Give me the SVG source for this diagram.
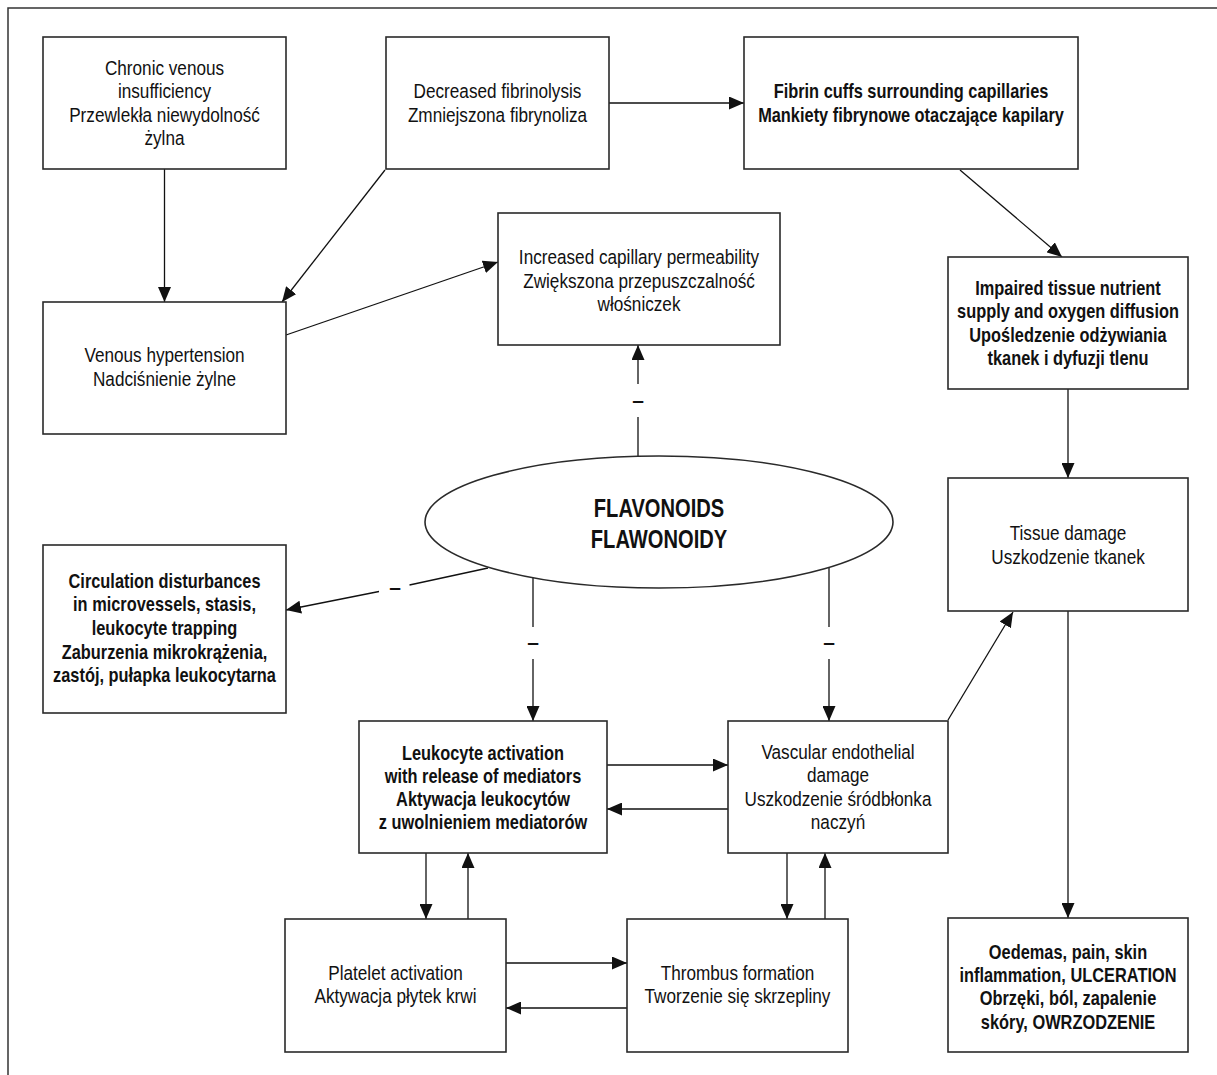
<svg xmlns="http://www.w3.org/2000/svg" width="1217" height="1075" viewBox="0 0 1217 1075">
<style>
.bg{fill:#fff}
.frame{fill:none;stroke:#333;stroke-width:1.5}
.box{fill:#fff;stroke:#2a2a2a;stroke-width:1.6}
.t{font-family:"Liberation Sans",Arial,sans-serif;font-size:19.5px;text-anchor:middle;fill:#111}
.b{font-weight:bold}
.fl{font-family:"Liberation Sans",Arial,sans-serif;font-size:26.5px;font-weight:bold;text-anchor:middle;fill:#111}
.c{fill:none;stroke:#111;stroke-width:1.3}
.m{font-family:"Liberation Sans",Arial,sans-serif;font-size:21px;font-weight:bold;text-anchor:middle;fill:#111}
</style>
<defs>
<marker id="ah" markerUnits="userSpaceOnUse" markerWidth="15" markerHeight="13" refX="15" refY="6.5" orient="auto">
<path d="M0,0 L15,6.5 L0,13 Z" fill="#111"/>
</marker>
</defs>
<rect class="bg" x="0" y="0" width="1217" height="1075"/>
<path class="frame" d="M8,1075 V8 H1217"/>

<g id="connectors">
<path class="c" d="M164.5,169 V302" marker-end="url(#ah)"/>
<path class="c" d="M385,170 L282,302" marker-end="url(#ah)"/>
<path class="c" d="M286,335 L498,262" marker-end="url(#ah)"/>
<path class="c" d="M609,103 H744" marker-end="url(#ah)"/>
<path class="c" d="M960,170 L1062,257" marker-end="url(#ah)"/>
<path class="c" d="M1068,389 V478" marker-end="url(#ah)"/>
<path class="c" d="M1068,611 V918" marker-end="url(#ah)"/>
<path class="c" d="M948,720 L1013,612" marker-end="url(#ah)"/>
<path class="c" d="M638,456 V417"/>
<path class="c" d="M638,384 V345" marker-end="url(#ah)"/>
<text class="m" x="638" y="407">–</text>
<path class="c" d="M488,568 L409.5,585"/>
<path class="c" d="M379,591.5 L286,610" marker-end="url(#ah)"/>
<text class="m" x="395" y="594">–</text>
<path class="c" d="M533,577 V627"/>
<path class="c" d="M533,659 V721" marker-end="url(#ah)"/>
<text class="m" x="533" y="649">–</text>
<path class="c" d="M829,567 V627"/>
<path class="c" d="M829,659 V721" marker-end="url(#ah)"/>
<text class="m" x="829" y="649">–</text>
<path class="c" d="M607,765 H728" marker-end="url(#ah)"/>
<path class="c" d="M728,809 H607" marker-end="url(#ah)"/>
<path class="c" d="M426,853 V919" marker-end="url(#ah)"/>
<path class="c" d="M468,919 V853" marker-end="url(#ah)"/>
<path class="c" d="M506,963 H627" marker-end="url(#ah)"/>
<path class="c" d="M627,1008 H506" marker-end="url(#ah)"/>
<path class="c" d="M787,853 V919" marker-end="url(#ah)"/>
<path class="c" d="M825,919 V853" marker-end="url(#ah)"/>
</g>

<g id="chronic">
<rect class="box" x="43" y="37" width="243" height="132"/>
<text class="t" transform="translate(164.5 0) scale(0.88 1)"><tspan x="0" y="75">Chronic venous</tspan><tspan x="0" y="98">insufficiency</tspan><tspan x="0" y="122">Przewlekła niewydolność</tspan><tspan x="0" y="145">żylna</tspan></text>
</g>
<g id="decreased">
<rect class="box" x="386" y="37" width="223" height="132"/>
<text class="t" transform="translate(497.5 0) scale(0.88 1)"><tspan x="0" y="98">Decreased fibrinolysis</tspan><tspan x="0" y="122">Zmniejszona fibrynoliza</tspan></text>
</g>
<g id="fibrin">
<rect class="box" x="744" y="37" width="334" height="132"/>
<text class="t b" transform="translate(911 0) scale(0.84 1)"><tspan x="0" y="98">Fibrin cuffs surrounding capillaries</tspan><tspan x="0" y="122">Mankiety fibrynowe otaczające kapilary</tspan></text>
</g>
<g id="increased">
<rect class="box" x="498" y="213" width="282" height="132"/>
<text class="t" transform="translate(639 0) scale(0.88 1)"><tspan x="0" y="264">Increased capillary permeability</tspan><tspan x="0" y="288">Zwiększona przepuszczalność</tspan><tspan x="0" y="311">włośniczek</tspan></text>
</g>
<g id="venous">
<rect class="box" x="43" y="302" width="243" height="132"/>
<text class="t" transform="translate(164.5 0) scale(0.88 1)"><tspan x="0" y="362">Venous hypertension</tspan><tspan x="0" y="386">Nadciśnienie żylne</tspan></text>
</g>
<g id="impaired">
<rect class="box" x="948" y="257" width="240" height="132"/>
<text class="t b" transform="translate(1068 0) scale(0.84 1)"><tspan x="0" y="295">Impaired tissue nutrient</tspan><tspan x="0" y="318">supply and oxygen diffusion</tspan><tspan x="0" y="342">Upośledzenie odżywiania</tspan><tspan x="0" y="365">tkanek i dyfuzji tlenu</tspan></text>
</g>
<g id="flavonoids">
<ellipse class="box" cx="659" cy="522" rx="234" ry="66"/>
<text class="fl" transform="translate(659 0) scale(0.76 1)"><tspan x="0" y="517">FLAVONOIDS</tspan><tspan x="0" y="548">FLAWONOIDY</tspan></text>
</g>
<g id="circulation">
<rect class="box" x="43" y="545" width="243" height="168"/>
<text class="t b" transform="translate(164.5 0) scale(0.84 1)"><tspan x="0" y="588">Circulation disturbances</tspan><tspan x="0" y="611">in microvessels, stasis,</tspan><tspan x="0" y="635">leukocyte trapping</tspan><tspan x="0" y="659">Zaburzenia mikrokrążenia,</tspan><tspan x="0" y="682">zastój, pułapka leukocytarna</tspan></text>
</g>
<g id="tissue">
<rect class="box" x="948" y="478" width="240" height="133"/>
<text class="t" transform="translate(1068 0) scale(0.88 1)"><tspan x="0" y="540">Tissue damage</tspan><tspan x="0" y="564">Uszkodzenie tkanek</tspan></text>
</g>
<g id="leukocyte">
<rect class="box" x="359" y="721" width="248" height="132"/>
<text class="t b" transform="translate(483 0) scale(0.84 1)"><tspan x="0" y="760">Leukocyte activation</tspan><tspan x="0" y="783">with release of mediators</tspan><tspan x="0" y="806">Aktywacja leukocytów</tspan><tspan x="0" y="829">z uwolnieniem mediatorów</tspan></text>
</g>
<g id="vascular">
<rect class="box" x="728" y="721" width="220" height="132"/>
<text class="t" transform="translate(838 0) scale(0.88 1)"><tspan x="0" y="759">Vascular endothelial</tspan><tspan x="0" y="782">damage</tspan><tspan x="0" y="806">Uszkodzenie śródbłonka</tspan><tspan x="0" y="829">naczyń</tspan></text>
</g>
<g id="platelet">
<rect class="box" x="285" y="919" width="221" height="133"/>
<text class="t" transform="translate(395.5 0) scale(0.88 1)"><tspan x="0" y="980">Platelet activation</tspan><tspan x="0" y="1003">Aktywacja płytek krwi</tspan></text>
</g>
<g id="thrombus">
<rect class="box" x="627" y="919" width="221" height="133"/>
<text class="t" transform="translate(737.5 0) scale(0.88 1)"><tspan x="0" y="980">Thrombus formation</tspan><tspan x="0" y="1003">Tworzenie się skrzepliny</tspan></text>
</g>
<g id="oedemas">
<rect class="box" x="948" y="918" width="240" height="134"/>
<text class="t b" transform="translate(1068 0) scale(0.84 1)"><tspan x="0" y="959">Oedemas, pain, skin</tspan><tspan x="0" y="982">inflammation, ULCERATION</tspan><tspan x="0" y="1005">Obrzęki, ból, zapalenie</tspan><tspan x="0" y="1029">skóry, OWRZODZENIE</tspan></text>
</g>
</svg>
